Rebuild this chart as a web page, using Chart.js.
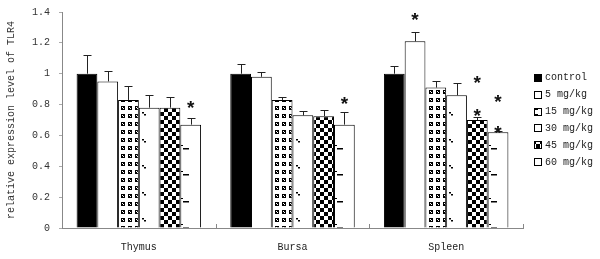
<!DOCTYPE html>
<html>
<head>
<meta charset="utf-8">
<script src="https://cdn.jsdelivr.net/npm/chart.js@4/dist/chart.umd.min.js"></script>
<style>
html,body{margin:0;padding:0;background:#fff;}
#wrap{width:600px;height:259px;}
</style>
</head>
<body>
<div id="wrap"><canvas id="c" width="600" height="259"></canvas></div>
<script>
// ---- data ----
const categories = ['Thymus', 'Bursa', 'Spleen'];
const seriesLabels = ['control', '5 mg/kg', '15 mg/kg', '30 mg/kg', '45 mg/kg', '60 mg/kg'];
const control = [1.00, 1.00, 1.00];
const mg5     = [0.95, 0.98, 1.21];
const mg15    = [0.83, 0.83, 0.91];
const mg30    = [0.78, 0.73, 0.86];
const mg45    = [0.78, 0.725, 0.70];
const mg60    = [0.67, 0.67, 0.62];
const errControl = [0.12, 0.06, 0.05];
const err5       = [0.07, 0.03, 0.06];
const err15      = [0.09, 0.02, 0.04];
const err30      = [0.08, 0.03, 0.08];
const err45      = [0.07, 0.04, 0.02];
const err60      = [0.04, 0.08, 0.01];
// significance marks: [category index, series index, value]
const stars = [[0,5,0.80],[1,5,0.825],[2,1,1.37],[2,4,0.96],[2,4,0.75],[2,5,0.84],[2,5,0.64]];
const yTicks = [0, 0.2, 0.4, 0.6, 0.8, 1, 1.2, 1.4];

const values = [control, mg5, mg15, mg30, mg45, mg60];
const errors = [errControl, err5, err15, err30, err45, err60];

// ---- patterns ----
function makePattern(w, h, draw) {
  const c = document.createElement('canvas');
  c.width = w; c.height = h;
  const g = c.getContext('2d');
  g.fillStyle = '#fff'; g.fillRect(0, 0, w, h);
  draw(g);
  return document.getElementById('c').getContext('2d').createPattern(c, 'repeat');
}
const pat15 = makePattern(7, 8, g => {
  g.fillStyle = '#000'; g.fillRect(2, 2, 4, 4);
  g.fillStyle = '#fff'; g.fillRect(3, 3, 1, 1); g.fillRect(4, 4, 1, 1);
});
const pat45 = makePattern(8, 8, g => {
  g.fillStyle = '#000'; g.fillRect(0, 0, 4, 4); g.fillRect(4, 4, 4, 4);
});
const fills = ['#000', '#fff', pat15, '#fff', pat45, '#fff'];

const FONT = "'Liberation Mono', monospace";

const decorPlugin = {
  id: 'decor',
  afterDatasetsDraw(chart) {
    const ctx = chart.ctx;
    const ys = chart.scales.y, xs = chart.scales.x;
    const area = chart.chartArea;
    ctx.save();
    // marks inside 30 mg/kg (dots) and 60 mg/kg (dashes)
    [3, 5].forEach(di => {
      chart.getDatasetMeta(di).data.forEach(el => {
        const left = el.x - el.width / 2;
        ctx.save();
        ctx.beginPath();
        ctx.rect(left, el.y, el.width, el.base - el.y);
        ctx.clip();
        ctx.fillStyle = '#000';
        const start = di === 3 ? 113 : 121;
        for (let y = start - 26.5 * 5; y < el.base; y += 26.5) {
          if (y < el.y) continue;
          if (di === 3) {
            ctx.fillRect(Math.round(left + 3), Math.round(y - 1), 2, 1.5);
            ctx.fillRect(Math.round(left + 5), Math.round(y + 1), 2, 1.5);
          } else {
            ctx.fillRect(Math.round(left + 1), Math.round(y - 3), 2, 1);
            ctx.fillRect(Math.round(left + 3), Math.round(y), 6, 1.5);
          }
        }
        ctx.restore();
      });
    });
    // error bars
    ctx.strokeStyle = '#222';
    ctx.lineWidth = 1;
    values.forEach((vals, di) => {
      chart.getDatasetMeta(di).data.forEach((el, j) => {
        const top = ys.getPixelForValue(vals[j] + errors[di][j]);
        const x = Math.round(el.x) + 0.5;
        ctx.beginPath();
        ctx.moveTo(x, el.y);
        ctx.lineTo(x, Math.round(top) + 0.5);
        ctx.moveTo(x - 4, Math.round(top) + 0.5);
        ctx.lineTo(x + 4, Math.round(top) + 0.5);
        ctx.stroke();
      });
    });
    // stars
    ctx.fillStyle = '#111';
    ctx.font = "bold 19px 'Liberation Sans', sans-serif";
    ctx.textAlign = 'center';
    ctx.textBaseline = 'alphabetic';
    const m = ctx.measureText('*');
    const off = (m.actualBoundingBoxAscent - m.actualBoundingBoxDescent) / 2;
    stars.forEach(([ci, si, v]) => {
      const el = chart.getDatasetMeta(si).data[ci];
      ctx.fillText('*', el.x, ys.getPixelForValue(v) + off);
    });
    // x-axis inner ticks at category boundaries
    ctx.strokeStyle = '#888';
    const n = categories.length;
    const step = xs.getPixelForValue(1) - xs.getPixelForValue(0);
    for (let i = 1; i <= n; i++) {
      const x = Math.round(xs.getPixelForValue(i - 1) + step / 2) + 0.5;
      ctx.beginPath();
      ctx.moveTo(x, area.bottom);
      ctx.lineTo(x, area.bottom - 4);
      ctx.stroke();
    }
    // legend
    const lx = 534, ly0 = 77.7, dy = 16.9;
    ctx.font = '10px ' + FONT;
    ctx.textAlign = 'left';
    ctx.textBaseline = 'middle';
    seriesLabels.forEach((lab, i) => {
      const y = ly0 + dy * i;
      ctx.fillStyle = fills[i];
      ctx.fillRect(lx, Math.round(y - 4), 8, 8);
      ctx.strokeStyle = '#000';
      ctx.strokeRect(lx + 0.5, Math.round(y - 4) + 0.5, 7, 7);
      ctx.fillStyle = '#222';
      ctx.fillText(lab, 545, y);
    });
    ctx.restore();
  }
};

new Chart(document.getElementById('c'), {
  type: 'bar',
  data: {
    labels: categories,
    datasets: seriesLabels.map((lab, i) => ({
      label: lab,
      data: values[i],
      backgroundColor: fills[i],
      borderColor: '#000',
      borderWidth: 1,
      categoryPercentage: 0.81,
      barPercentage: 1.0
    }))
  },
  options: {
    responsive: false,
    animation: false,
    devicePixelRatio: 1,
    layout: { padding: { left: 0, right: 77, top: 12, bottom: 0 } },
    plugins: { legend: { display: false }, tooltip: { enabled: false } },
    scales: {
      x: {
        grid: { display: false },
        border: { color: '#888', width: 1 },
        ticks: { color: '#222', font: { family: FONT, size: 10 }, padding: 5 },
        afterFit(s) { s.height = 31; s.paddingLeft = 0; s.paddingRight = 0; }
      },
      y: {
        min: 0, max: 1.4,
        afterBuildTicks(s) { s.ticks = yTicks.map(v => ({ value: v })); },
        ticks: {
          color: '#333', font: { family: FONT, size: 10 }, padding: 9, autoSkip: false,
          callback: v => String(+(+v).toFixed(1))
        },
        grid: { drawOnChartArea: false, drawTicks: true, tickLength: 3, color: '#aaa' },
        border: { color: '#888', width: 1 },
        title: {
          display: true, text: 'relative expression level of TLR4',
          color: '#333', font: { family: FONT, size: 10 }, padding: { top: 5, bottom: 0 }
        },
        afterFit(s) { s.width = 62; s.paddingTop = 0; s.paddingBottom = 0; }
      }
    }
  },
  plugins: [decorPlugin]
});
</script>
</body>
</html>
